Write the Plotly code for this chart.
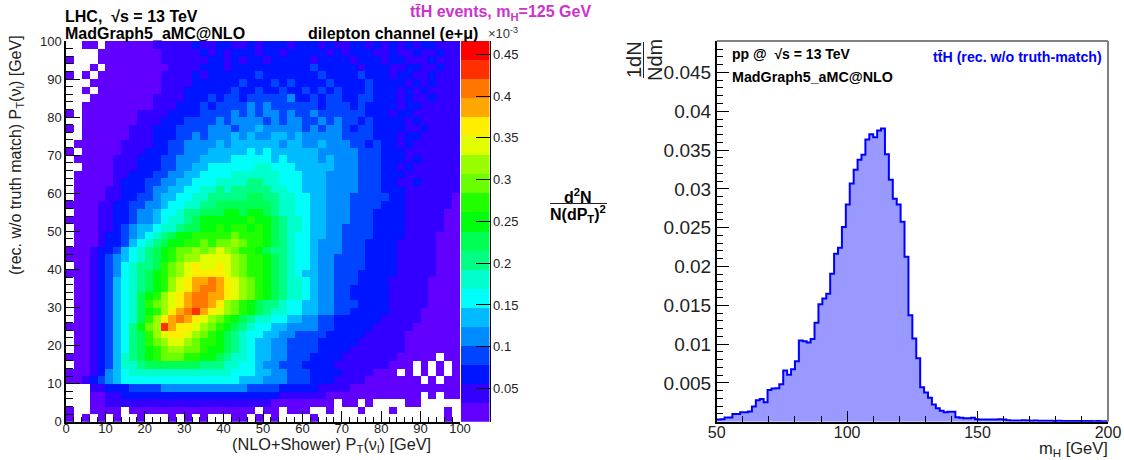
import numpy as np
import plotly.graph_objects as go

W, H = 1124, 460

# Colour level of each 2 GeV x 2 GeV cell
# ('.' = empty cell, 0-9 then a-j = colour band 0..19). First row is the top (y = 98-100).
level_rows = [
"..00.00000 0111112112 2112122212 2212112212 1212122111",
"....000000 0011111212 1222122122 2221212221 1211211211",
"0...000000 0011111122 1212212222 2122221222 1221112111",
"...0.00000 0001111222 1222222222 2322222122 2112211211",
"0.0.000000 0011112122 2222322222 2232222322 2122112111",
"...0000000 0011112222 2232223232 2223222232 2221212111",
"..0.000000 0011122222 2322322322 3232322232 2212121111",
"...0000000 0111122232 3323333342 2323322332 2212112111",
"..00000000 0111222323 3334343333 3323332322 2212211111",
"0.00000001 1112222333 3434344343 3433333322 2122111111",
"..00000001 1122233334 3444434344 3343433232 2221211111",
"0.00000011 1222333344 4344544444 3434432332 2221121111",
"..00000011 1222334344 4545445545 4444433332 2212211111",
".000000111 1223344445 4555555455 4454443323 2212111111",
"0.00000111 2223344455 5556565555 5544444333 2221111111",
".000001112 2233444555 5666665655 5545444333 2221211111",
"..00001112 2233445566 6666776665 5555444333 2212111111",
".000001122 2334455666 6777777666 5554444333 2221111111",
".000001222 3344556667 7778877666 5554444333 2211211111",
".000011222 3445566778 7888887766 5554444333 2221111111",
".000011223 3455667788 8889988776 6554443333 3221111110",
"0000112233 4456677889 9999998776 6554443333 2221111110",
".000112234 4566788999 aa9aa98776 6554443332 2221111100",
"0000112234 4567789aaa aaabaa9877 6554443332 2221111100",
".000112345 5677899aab abbaba9877 6554433332 2221111100",
".000122345 6789aabbbb bcbbba9876 6554433332 2221111000",
".000122356 789aabbcbc cdcbba9876 6544433322 2211111000",
"0001223567 89abccdcde dcbba98876 6544433322 2211111000",
"0001234567 89abcddeee edcbba9876 6544333322 2211111000",
".001234678 89bcdefeef edcbba9876 6544333322 2211111000",
"0001234678 9abcdeffff edcbba9876 5544333222 2211111000",
".001235678 9abdefgghg fedcba9877 6544333222 2111110000",
".001235678 9abdefghhg fedcba9877 6544332222 2111110000",
".001235679 abdefghhgg fedcba9877 6544332222 2111110000",
".001235679 bcdefghhgf dcba988766 5544333222 2111110000",
".001235679 abdfghigfe dcba987766 5544332222 2111100000",
".001235679 bdfghgfedc ba98776655 4433222222 1111100000",
"000123568a cdigffedcb a987665544 4433222221 1111000000",
".001235689 bdeffedcba 9876655443 3332222211 1110000000",
".001235689 bcdeedcbba 9876554433 3322222111 1110000000",
".001235689 abcddccbaa 9876554433 3322221111 1110000000",
"0001235789 abcccbbaa9 8776554433 3222211111 1100000.00",
".001235778 9999999888 7766544333 2222111111 1000.0.0.0",
"0001245677 7777777777 7666554433 3222211110 00.0.0.0.0",
"0012345666 6666666666 6655544433 3222111100 00000.0.00",
"...1122233 3344444444 4443333222 2211110000 0000000000",
"...0011222 2222222222 2222222111 1110000000 00000.0.00",
"...0011111 1111111111 1111110000 0000.00.0. ...00.....",
"0..0000.00 0000000000 0000.00.00 0..0...0.. .0......0.",
"0.0.0.0..0 ...0.0.0.. .00.0.0... .0........ ........0.",
]
level_chars = "0123456789abcdefghij"
z_low, z_high, n_bands = 0.0103, 0.466, 20
band_hues = [263, 252, 235, 224, 207, 196, 179, 168, 151, 140,
             123, 112, 95, 84, 67, 56, 39, 28, 11, 0]
colorbar_ticks = [0.05, 0.1, 0.15, 0.2, 0.25, 0.3, 0.35, 0.4, 0.45]

# mH histogram: 100 bins of 1.5 GeV from 50 to 200
mh_values = [
0.00028, 0.00032, 0.00054, 0.00054, 0.00100, 0.00100, 0.00122, 0.00122, 0.00131, 0.00195,
0.00277, 0.00294, 0.00251, 0.00410, 0.00427, 0.00432, 0.00483, 0.00660, 0.00604, 0.00677,
0.00780, 0.01046, 0.01037, 0.01020, 0.01067, 0.01274, 0.01514, 0.01587, 0.01647, 0.01905,
0.02163, 0.02240, 0.02510, 0.02797, 0.03069, 0.03245, 0.03374, 0.03441, 0.03636, 0.03705,
0.03664, 0.03752, 0.03778, 0.03447, 0.03116, 0.02873, 0.02800, 0.02575, 0.02124, 0.01372,
0.01072, 0.00818, 0.00445, 0.00376, 0.00307, 0.00221, 0.00174, 0.00140, 0.00122, 0.00127,
0.00127, 0.00058, 0.00050, 0.00045, 0.00045, 0.00050, 0.00032, 0.00028, 0.00028, 0.00028,
0.00028, 0.00028, 0.00030, 0.00028, 0.00020, 0.00015, 0.00015, 0.00015, 0.00018, 0.00015,
0.00012, 0.00015, 0.00013, 0.00012, 0.00012, 0.00012, 0.00010, 0.00012, 0.00010, 0.00010,
0.00008, 0.00010, 0.00008, 0.00008, 0.00008, 0.00008, 0.00006, 0.00008, 0.00006, 0.00006,
]
mh_ticks = [0.005, 0.01, 0.015, 0.02, 0.025, 0.03, 0.035, 0.04, 0.045]
mh_tick_text = ["0.005", "0.01", "0.015", "0.02", "0.025", "0.03", "0.035", "0.04", "0.045"]

FONT = "Liberation Sans"


def fx(x):
    return x / W


def fy(y):
    return 1 - y / H


rows = [r.replace(" ", "").ljust(50, ".") for r in level_rows]
band = (z_high - z_low) / n_bands
z = [[None if ch == "." else z_low + (level_chars.index(ch) + 0.5) * band for ch in r]
     for r in reversed(rows)]

cs = []
for k, h in enumerate(band_hues):
    c = f"hsl({h},100%,50%)"
    cs += [[k / n_bands, c], [(k + 1) / n_bands, c]]

fig = go.Figure()
fig.add_trace(go.Heatmap(
    z=z, x0=1, dx=2, y0=1, dy=2, zmin=z_low, zmax=z_high, colorscale=cs,
    hoverongaps=False, xaxis="x", yaxis="y", showscale=False,
))
fig.add_trace(go.Heatmap(
    z=[[z_low + (k + 0.5) * band] for k in range(n_bands)], x0=0, dx=1,
    y0=z_low + band / 2, dy=band, zmin=z_low, zmax=z_high, colorscale=cs,
    xaxis="x3", yaxis="y3", showscale=False,
))

edges = np.linspace(50, 200, len(mh_values) + 1)
fig.add_trace(go.Scatter(
    x=edges, y=list(mh_values) + [mh_values[-1]], mode="lines",
    line=dict(color="#0000ff", width=2, shape="hv"),
    fill="tozeroy", fillcolor="#9999ff", xaxis="x2", yaxis="y2", showlegend=False,
))

ax_common = dict(showgrid=False, zeroline=False, showline=True, linecolor="black", linewidth=1.5,
                 ticks="inside", tickcolor="black", tickwidth=1)

fig.update_layout(
    width=W, height=H, autosize=False,
    margin=dict(l=0, r=0, t=0, b=0, pad=0, autoexpand=False),
    paper_bgcolor="white", plot_bgcolor="white", showlegend=False,
    font=dict(family=FONT, color="#222222"),
    xaxis=dict(domain=[fx(66), fx(460)], range=[0, 100], tick0=0, dtick=10, ticklen=11,
               minor=dict(dtick=2, ticks="inside", ticklen=5, tickcolor="black", showgrid=False),
               tickfont=dict(size=13), ticklabelstandoff=-6, anchor="y", **ax_common),
    yaxis=dict(domain=[fy(421.7), fy(41)], range=[0, 100], tick0=0, dtick=10, ticklen=14,
               minor=dict(dtick=2, ticks="inside", ticklen=7, tickcolor="black", showgrid=False),
               tickfont=dict(size=13), anchor="x", **ax_common),
    xaxis3=dict(domain=[fx(461), fx(489.5)], range=[-0.5, 0.5], showticklabels=False, ticks="",
                showgrid=False, zeroline=False, showline=False, anchor="y3"),
    yaxis3=dict(domain=[fy(421.7), fy(41)], range=[z_low, z_high], side="right", anchor="x3",
                tickmode="array", tickvals=colorbar_ticks, ticktext=[f"{t:g}" for t in colorbar_ticks],
                ticks="inside", ticklen=14, tickcolor="black", tickwidth=1,
                tickfont=dict(size=13), showgrid=False, zeroline=False,
                showline=True, linecolor="black", linewidth=1),
    xaxis2=dict(domain=[fx(716.7), fx(1108)], range=[50, 200], tickmode="array",
                tickvals=[50, 100, 150, 200], ticklen=11,
                minor=dict(tick0=50, dtick=10, ticks="inside", ticklen=6, tickcolor="black", showgrid=False),
                tickfont=dict(size=16), ticklabelstandoff=-5, anchor="y2", **ax_common),
    yaxis2=dict(domain=[fy(421.7), fy(41)], range=[0, 0.04905], tickmode="array",
                tickvals=mh_ticks, ticktext=mh_tick_text, ticklen=13,
                minor=dict(tick0=0, dtick=0.001, ticks="inside", ticklen=7, tickcolor="black", showgrid=False),
                tickfont=dict(size=19), anchor="x2", **ax_common),
)


def label(x, y, text, size, color="black", bold=False, anchor="left", angle=0):
    if bold:
        text = f"<b>{text}</b>"
    fig.add_annotation(xref="paper", yref="paper", x=fx(x), y=fy(y), text=text, showarrow=False,
                       xanchor=anchor, yanchor="middle", textangle=angle, align=anchor,
                       font=dict(family=FONT, size=size, color=color), borderpad=0, borderwidth=0)


TT = "tt\u0304H"
label(65, 16, "LHC,  \u221as = 13 TeV", 16, bold=True)
label(65, 33, "MadGraph5_aMC@NLO", 16, bold=True)
label(308, 33, "dilepton channel (e+\u03bc)", 16, bold=True)
label(410, 13, f"{TT} events, m<sub>H</sub>=125 GeV", 16, color="#cc33cc", bold=True)
label(488, 33, "\u00d710<sup>-3</sup>", 13, color="#333333")
label(431, 445, "(NLO+Shower) P<sub>T</sub>(\u03bd<sub>l</sub>) [GeV]", 16.3, color="#222222", anchor="right")
label(17, 155, "(rec. w/o truth match) P<sub>T</sub>(\u03bd<sub>l</sub>) [GeV]", 16, color="#222222",
      anchor="center", angle=-90)
label(578, 196, "d<sup>2</sup>N", 16, bold=True, anchor="center")
label(578, 214, "N(dP<sub>T</sub>)<sup>2</sup>", 16, bold=True, anchor="center")
label(732, 54, "pp @  \u221as = 13 TeV", 14, bold=True)
label(732, 77, "MadGraph5_aMC@NLO", 14.3, bold=True)
label(1102, 57, f"{TT} (rec. w/o truth-match)", 14.2, color="#0000ff", bold=True, anchor="right")
label(1108, 449, "m<sub>H</sub> [GeV]", 16.5, color="#222222", anchor="right")
label(634, 60, "1dN", 20, color="#222222", anchor="center", angle=-90)
label(655, 60, "Ndm", 20, color="#222222", anchor="center", angle=-90)


def line(x0, y0, x1, y1, color="black", width=1.0):
    fig.add_shape(type="line", xref="paper", yref="paper", x0=fx(x0), y0=fy(y0), x1=fx(x1), y1=fy(y1),
                  line=dict(color=color, width=width), layer="above")


line(643.5, 42, 643.5, 78, "#222222", 1)
line(550, 203.5, 607, 203.5, "#222222", 1)
line(716.7, 41, 1108, 41, "#808080", 2)
line(1108, 41, 1108, 421.7, "#808080", 2)

fig.write_html("out.html", config={"displayModeBar": False}, post_script="document.body.style.margin='0';")
